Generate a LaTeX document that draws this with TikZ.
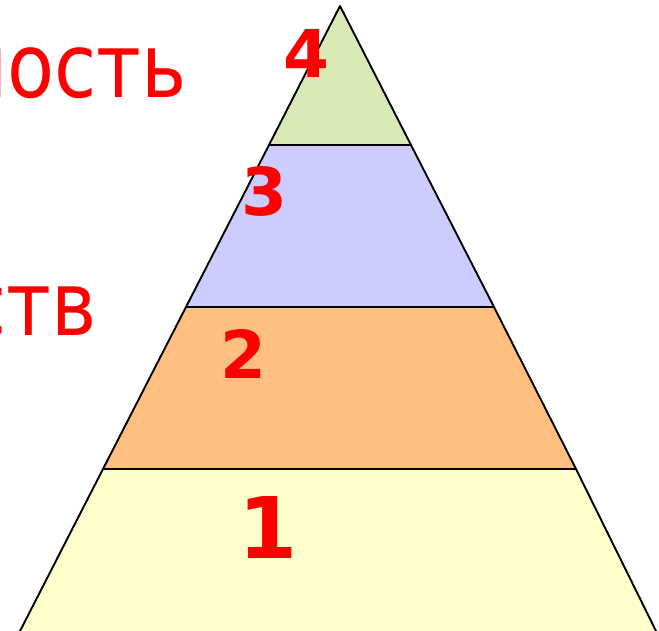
\documentclass[tikz,border=0pt]{standalone}
\usepackage{fontspec}
\setmainfont{DejaVu Sans Condensed}[FakeStretch=0.96]
\newfontfamily\numfont{DejaVu Sans Bold}
\definecolor{lgreen}{HTML}{D8E9B5}
\definecolor{lblue}{HTML}{CCCCFF}
\definecolor{lorange}{HTML}{FFBF80}
\definecolor{lyellow}{HTML}{FFFFCC}
\definecolor{tred}{HTML}{FF0000}
\tikzset{
  layer/.style={draw=black, line width=1.9pt, line join=round},
  numlbl/.style={text=tred, inner sep=0pt, anchor=base west, font=\numfont\fontsize{66}{66}\selectfont},
  biglbl/.style={text=tred, inner sep=0pt, anchor=base west, font=\numfont\fontsize{85}{85}\selectfont},
  wordlbl/.style={text=tred, inner sep=0pt, anchor=base east, font=\fontsize{89}{89}\selectfont}
}
\begin{document}
\begin{tikzpicture}[x=1pt,y=-1pt]
\useasboundingbox (0,0) rectangle (659,630);
% layers
\path[layer, fill=lyellow] (103,469) -- (576,469) -- (657,633) -- (19,633) -- cycle;
\path[layer, fill=lorange] (186,307) -- (494,307) -- (576,469) -- (103,469) -- cycle;
\path[layer, fill=lblue] (269,145) -- (411,145) -- (494,307) -- (186,307) -- cycle;
\path[layer, fill=lgreen] (340,6) -- (411,145) -- (269,145) -- cycle;
% texts
\node[wordlbl] (w1) at (187,97) {ность};
\node[wordlbl] (w2) at (97,335) {ств};
\node[numlbl] (n4) at (283,77) {4};
\node[numlbl] (n3) at (241,215) {3};
\node[numlbl] (n2) at (220,378) {2};
\node[biglbl] (n1) at (238,558) {1};
\end{tikzpicture}
\end{document}
